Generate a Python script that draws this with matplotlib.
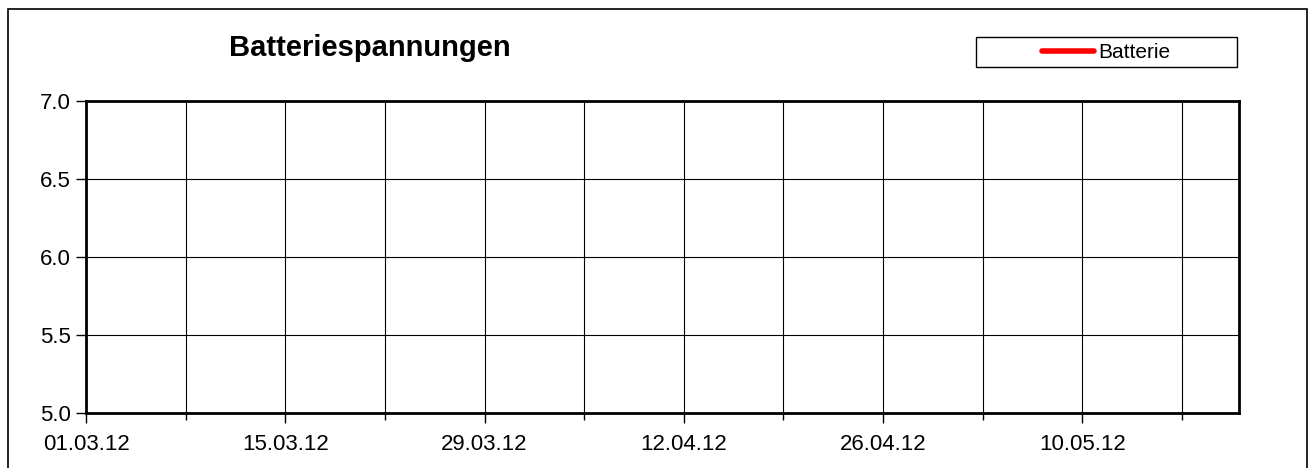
import datetime as dt
import matplotlib
matplotlib.use("Agg")
import matplotlib.pyplot as plt
import matplotlib.dates as mdates
from matplotlib.patches import Rectangle

plt.rcParams['font.family'] = ['Liberation Sans', 'DejaVu Sans']

# Chart contents (no measured values are visible in the chart)
title = "Batteriespannungen"
series_name = "Batterie"
dates = []
voltages = []
x_start = dt.datetime(2012, 3, 1)
x_end = dt.datetime(2012, 5, 21)
y_ticks = [5.0, 5.5, 6.0, 6.5, 7.0]

W, H = 1315, 468
fig = plt.figure(figsize=(W / 100, H / 100), dpi=100)

# outer frame of the chart object (bottom edge falls outside the image)
fig.add_artist(Rectangle((8 / W, -0.05), (1307 - 8) / W, 1.05 - 9 / H,
                         transform=fig.transFigure, fill=False,
                         edgecolor='black', linewidth=1.2))

ax = fig.add_axes([86 / W, 1 - 413 / H, (1239 - 86) / W, (413 - 101) / H])
line, = ax.plot(dates, voltages, color='red', linewidth=4,
                solid_capstyle='round', label=series_name)

ax.set_xlim(x_start, x_end)
ax.set_ylim(y_ticks[0], y_ticks[-1])
ax.set_yticks(y_ticks)
ax.yaxis.set_major_formatter(matplotlib.ticker.FormatStrFormatter('%.1f'))

# labels every two weeks, gridlines every week
ax.set_xticks(mdates.drange(x_start, x_end, dt.timedelta(days=14)))
ax.set_xticks(mdates.drange(x_start, x_end, dt.timedelta(days=7)), minor=True)
ax.xaxis.set_major_formatter(mdates.DateFormatter('%d.%m.%y'))

ax.grid(True, which='both', axis='x', color='black', linewidth=0.8)
ax.grid(True, which='major', axis='y', color='black', linewidth=0.8)
for s in ax.spines.values():
    s.set_linewidth(2)
ax.tick_params(axis='both', which='major', labelsize=16, length=7,
               width=1, direction='out', pad=8)
ax.tick_params(axis='x', which='minor', length=5, width=1)
ax.tick_params(axis='y', which='major', pad=4)

fig.text(370 / W, 1 - 48 / H, title, ha='center', va='center',
         fontsize=21, fontweight='bold')

# legend box
fig.add_artist(Rectangle((976 / W, 1 - 67 / H), (1237 - 976) / W, 30 / H,
                         transform=fig.transFigure, fill=False,
                         edgecolor='black', linewidth=1))
ax.legend(handles=[line], loc='center', frameon=False, fontsize=15,
          bbox_to_anchor=(1106 / W, 1 - 53 / H), bbox_transform=fig.transFigure,
          handlelength=2.5, handletextpad=0.2, borderpad=0)

fig.savefig("out.png", dpi=100)
